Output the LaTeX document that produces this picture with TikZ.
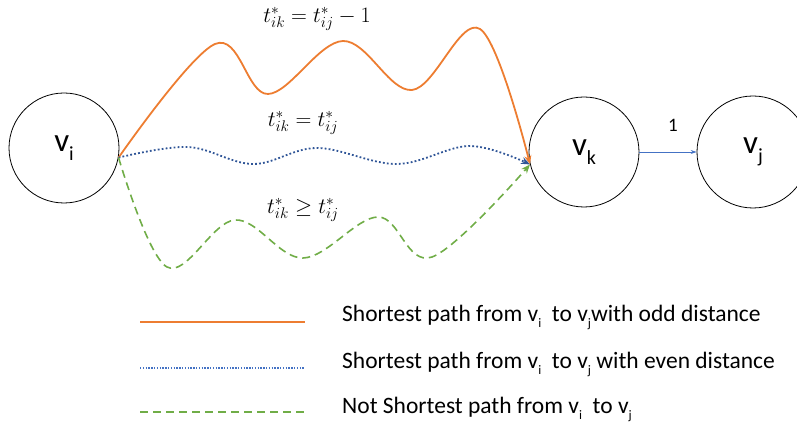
\RequirePackage{fix-cm}
\documentclass[tikz,border=0pt]{standalone}
\usepackage{fontspec}
\setmainfont{Carlito}
\usetikzlibrary{arrows.meta}
\definecolor{orng}{HTML}{ED7D31}
\definecolor{dblue}{HTML}{2F5597}
\definecolor{lblue}{HTML}{4472C4}
\definecolor{grn}{HTML}{70AD47}
\newcommand{\nodelab}[2]{\fontsize{33}{33}\selectfont #1\raisebox{-9pt}{\fontsize{20}{20}\selectfont #2}}
\newcommand{\lsub}[1]{\raisebox{-5.5pt}{\fontsize{13}{13}\selectfont #1}}
\tikzset{
  vert/.style={circle, draw=black, line width=0.8pt, minimum size=110pt, inner sep=0pt},
  oddpath/.style={draw=orng, line width=1.8pt, -{Stealth[length=9pt,width=7pt]}},
  evenpath/.style={draw=dblue, line width=1.8pt, dash pattern=on 1.8pt off 2.2pt, -{Stealth[length=9pt,width=7pt]}},
  notpath/.style={draw=grn, line width=1.6pt, dash pattern=on 8pt off 5pt, -{Stealth[length=9pt,width=7pt]}},
  mathlab/.style={font=\fontsize{22}{24}\selectfont},
  legtext/.style={anchor=base west, font=\fontsize{23.5}{26}\selectfont, inner sep=0pt},
}
\begin{document}
\begin{tikzpicture}[x=1pt,y=1pt]
\useasboundingbox (0,0) rectangle (797,427);
\node[vert] (vi) at (64,279) {\nodelab{v}{i}};
\node[vert] (vk) at (584,275) {\nodelab{v}{k}};
\node[vert, minimum size=112pt] (vj) at (753,275) {\nodelab{v}{j}};
\draw[lblue, line width=0.8pt, -{Stealth[length=6pt,width=4pt]}] (vk.east) -- (vj.west) node[midway, above=17pt, xshift=5pt, text=black, font=\fontsize{19}{19}\selectfont] (one) {1};
\draw[oddpath] plot[smooth, tension=0.6] coordinates {(vi.-10) (215,383) (268,333) (343,386) (412,337) (480,398) (vk.193)};
\draw[evenpath] plot[smooth, tension=0.6] coordinates {(vi.-10) (188,280) (253,263) (317,279) (397,263) (470,281) (vk.193)};
\draw[notpath] plot[smooth, tension=0.6] coordinates {(vi.-10) (167,160) (235,207) (303,169) (378,210) (432,170) (vk.193)};
\node[mathlab] (l1) at (317,408) {$t^*_{ik}=t^*_{ij}-1$};
\node[mathlab] (l2) at (303,304) {$t^*_{ik}=t^*_{ij}$};
\node[mathlab] (l3) at (303,217) {$t^*_{ik}\geq t^*_{ij}$};
\coordinate (a1) at (140,105); \coordinate (b1) at (305,105);
\coordinate (a2) at (140,59); \coordinate (b2) at (305,59);
\coordinate (a3) at (140,15); \coordinate (b3) at (305,15);
\draw[orng, line width=2pt] (a1) -- (b1);
\draw[lblue, line width=1.4pt, dash pattern=on 1.4pt off 1.4pt] (a2) -- (b2);
\draw[grn, line width=1.6pt, dash pattern=on 8pt off 5pt] (a3) -- (b3);
\node[legtext] (t1) at (342,105) {Shortest path from v\lsub{i}\ \ to v\lsub{j}with odd distance};
\node[legtext] (t2) at (342,58) {Shortest path from v\lsub{i}\ \ to v\lsub{j} with even distance};
\node[legtext] (t3) at (342,13) {Not Shortest path from v\lsub{i}\ \ to v\lsub{j}};
\end{tikzpicture}
\end{document}
